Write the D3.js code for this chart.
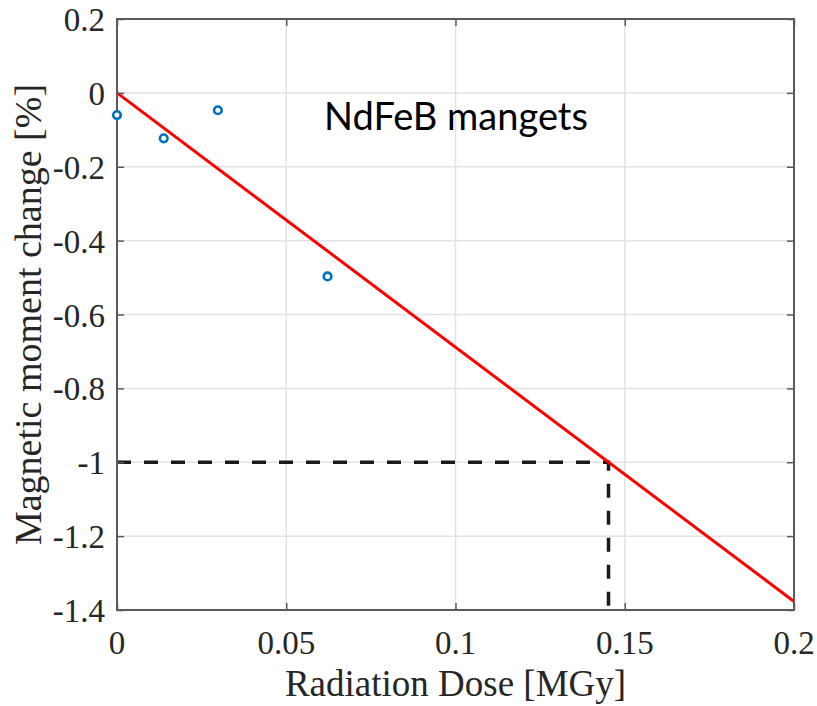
<!DOCTYPE html>
<meta charset="utf-8">
<head>
<style>
  body { margin: 0; background: #fff; }
</style>
</head>
<body>
    <div id="my_dataviz"></div>
    <script src="https://d3js.org/d3.v7.min.js"></script>
<script>
    // measured points (dose in MGy, moment change in %)
    const doseX = [0, 0.0138, 0.0298, 0.0622];
    const momentY = [-0.06, -0.123, -0.047, -0.497];

    // linear fit drawn across the plot
    const fitX = [0, 0.2];
    const fitY = [0, -1.377];

    // -1 % threshold guide
    const limitDose = 0.1452;
    const limitMoment = -1;

    const xTicks = [0, 0.05, 0.1, 0.15, 0.2];
    const xTickLabels = ["0", "0.05", "0.1", "0.15", "0.2"];
    const yTicks = [0.2, 0, -0.2, -0.4, -0.6, -0.8, -1, -1.2, -1.4];
    const yTickLabels = ["0.2", "0", "-0.2", "-0.4", "-0.6", "-0.8", "-1", "-1.2", "-1.4"];

    const W = 817, H = 706;
    const plot = {left: 117, right: 794, top: 19, bottom: 610};
    const serif = "Liberation Serif";

    const svg = d3.select("#my_dataviz")
      .append("svg")
        .attr("width", W)
        .attr("height", H);

    const x = d3.scaleLinear().domain([0, 0.2]).range([plot.left, plot.right]);
    const y = d3.scaleLinear().domain([-1.4, 0.2]).range([plot.bottom, plot.top]);

    // grid
    svg.append("g")
      .selectAll("line")
      .data(xTicks)
      .join("line")
        .attr("x1", d => x(d)).attr("x2", d => x(d))
        .attr("y1", plot.top).attr("y2", plot.bottom)
        .attr("stroke", "#e3e3e3").attr("stroke-width", 1.5);
    svg.append("g")
      .selectAll("line")
      .data(yTicks)
      .join("line")
        .attr("x1", plot.left).attr("x2", plot.right)
        .attr("y1", d => y(d)).attr("y2", d => y(d))
        .attr("stroke", "#e3e3e3").attr("stroke-width", 1.5);

    // dashed guide at -1 %
    svg.append("path")
      .attr("d", d3.line()([[x(0), y(limitMoment)], [x(limitDose), y(limitMoment)], [x(limitDose), y(-1.4)]]))
      .attr("fill", "none")
      .attr("stroke", "#1a1a1a")
      .attr("stroke-width", 3.5)
      .attr("stroke-dasharray", "14,13");

    // fit line
    svg.append("path")
      .datum(fitX.map((d, i) => [d, fitY[i]]))
      .attr("d", d3.line().x(d => x(d[0])).y(d => y(d[1])))
      .attr("fill", "none")
      .attr("stroke", "#ff0000")
      .attr("stroke-width", 3);

    // axes: inward ticks on all four sides, labels drawn below
    const gx = svg.append("g")
      .attr("transform", `translate(0, ${plot.bottom})`)
      .call(d3.axisBottom(x).tickValues(xTicks).tickFormat("").tickSizeInner(-7).tickSizeOuter(0));
    const gy = svg.append("g")
      .attr("transform", `translate(${plot.left}, 0)`)
      .call(d3.axisLeft(y).tickValues(yTicks).tickFormat("").tickSizeInner(-7).tickSizeOuter(0));
    const gt = svg.append("g")
      .attr("transform", `translate(0, ${plot.top})`)
      .call(d3.axisTop(x).tickValues(xTicks).tickFormat("").tickSizeInner(-7).tickSizeOuter(0));
    const gr = svg.append("g")
      .attr("transform", `translate(${plot.right}, 0)`)
      .call(d3.axisRight(y).tickValues(yTicks).tickFormat("").tickSizeInner(-7).tickSizeOuter(0));

    [gx, gy, gt, gr].forEach(g => {
      g.select(".domain").remove();
      g.selectAll(".tick line").attr("stroke", "#5a5a5a").attr("stroke-width", 1.5);
    });

    // tick labels
    svg.append("g")
      .selectAll("text")
      .data(xTicks)
      .join("text")
        .attr("x", d => x(d))
        .attr("y", 654)
        .attr("text-anchor", "middle")
        .attr("font-family", serif)
        .attr("font-size", 33)
        .attr("fill", "#262626")
        .text((d, i) => xTickLabels[i]);
    svg.append("g")
      .selectAll("text")
      .data(yTicks)
      .join("text")
        .attr("x", plot.left - 12)
        .attr("y", d => y(d) + 12)
        .attr("text-anchor", "end")
        .attr("font-family", serif)
        .attr("font-size", 33)
        .attr("fill", "#262626")
        .text((d, i) => yTickLabels[i]);

    // frame
    svg.append("rect")
      .attr("x", plot.left).attr("y", plot.top)
      .attr("width", plot.right - plot.left).attr("height", plot.bottom - plot.top)
      .attr("fill", "none")
      .attr("stroke", "#5a5a5a")
      .attr("stroke-width", 2);

    // data markers
    svg.append("g")
      .selectAll("circle")
      .data(doseX)
      .join("circle")
        .attr("cx", d => x(d))
        .attr("cy", (d, i) => y(momentY[i]))
        .attr("r", 3.8)
        .attr("fill", "#fff")
        .attr("stroke", "#0072bd")
        .attr("stroke-width", 2.6);

    // axis titles
    svg.append("text")
      .attr("x", (plot.left + plot.right) / 2)
      .attr("y", 696)
      .attr("text-anchor", "middle")
      .attr("font-family", serif)
      .attr("font-size", 37)
      .attr("fill", "#262626")
      .text("Radiation Dose [MGy]");

    svg.append("text")
      .attr("transform", `translate(41, ${(plot.top + plot.bottom) / 2}) rotate(-90)`)
      .attr("text-anchor", "middle")
      .attr("font-family", serif)
      .attr("font-size", 38)
      .attr("fill", "#262626")
      .text("Magnetic moment change [%]");

    // annotation
    svg.append("text")
      .attr("x", 324)
      .attr("y", 130)
      .attr("font-family", "Lato, 'Open Sans', sans-serif")
      .attr("font-size", 38)
      .attr("fill", "#000")
      .text("NdFeB mangets");
</script>
</body>
